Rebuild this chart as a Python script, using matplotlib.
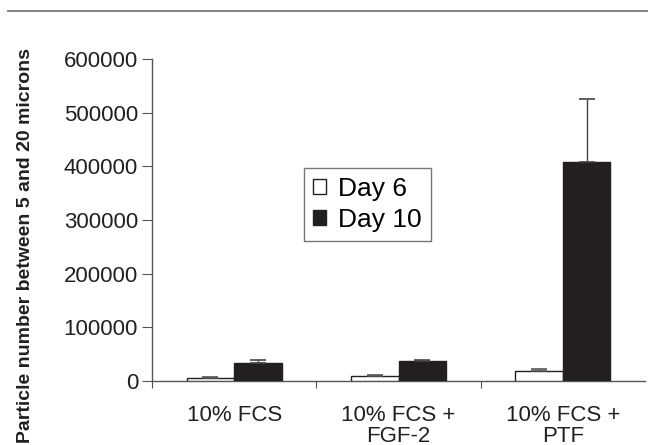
import numpy as np
import matplotlib.pyplot as plt
from matplotlib.lines import Line2D

plt.rcParams['font.family'] = ['Liberation Sans', 'DejaVu Sans']

groups = ['10% FCS', '10% FCS +\nFGF-2', '10% FCS +\nPTF']
day6 = [6000, 9500, 19500]
day6_err = [1000, 1000, 3500]
day10 = [33000, 36500, 407500]
day10_err = [7000, 3500, 118000]

fig = plt.figure(figsize=(6.48, 4.45), dpi=100)
ax = fig.add_axes([152 / 648, 1 - 381 / 445, (645 - 152) / 648, (381 - 59) / 445])

x = np.arange(len(groups)) + 0.5
w = 0.29
dark = '#231f20'
ax.bar(x - w / 2, day6, w, color='white', edgecolor=dark, linewidth=1.0,
       yerr=[np.zeros(3), day6_err], error_kw=dict(ecolor='#555555', capsize=5.5, elinewidth=1.0, capthick=1.2),
       label='Day 6', zorder=3)
ax.bar(x + w / 2, day10, w, color=dark, edgecolor=dark, linewidth=1.0,
       yerr=[np.zeros(3), day10_err], error_kw=dict(ecolor='#444444', capsize=5.5, elinewidth=1.0, capthick=1.2),
       label='Day 10', zorder=3)

ax.set_xlim(0, 3)
ax.set_ylim(0, 600000)
ax.set_yticks(np.arange(0, 600001, 100000))
ax.set_yticklabels([str(v) for v in range(0, 600001, 100000)])
ax.set_xticks([0, 1, 2])
ax.set_xticklabels([])
ax.set_xticks(x, minor=True)
ax.set_xticklabels(groups, minor=True, linespacing=1.0)
ax.tick_params(axis='x', which='minor', length=0, pad=17, labelsize=16, colors='#231f20')
ax.tick_params(axis='x', which='major', length=5, direction='out', color='#555555')
ax.tick_params(axis='y', length=7, direction='out', labelsize=16, pad=3, color='#555555', labelcolor='#231f20')
for s in ['top', 'right']:
    ax.spines[s].set_visible(False)
for s in ['left', 'bottom']:
    ax.spines[s].set_color('#555555')
    ax.spines[s].set_linewidth(1.0)

ax.set_ylabel('Particle number between 5 and 20 microns', fontsize=14, fontweight='bold',
              color='#231f20')
ax.yaxis.set_label_coords(-0.24, 0.42)

leg = ax.legend(loc='upper left', bbox_to_anchor=((304 - 152) / 493, 1 - (168 - 59) / 322),
                fontsize=19, frameon=True, fancybox=False, edgecolor='#555555',
                handlelength=0.5, handleheight=0.5, handletextpad=0.45, borderpad=0.35,
                labelspacing=0.25, borderaxespad=0)
leg.get_frame().set_linewidth(1.0)

fig.add_artist(Line2D([8 / 648, 1], [1 - 11 / 445, 1 - 11 / 445], color='#777777', linewidth=1.3))

fig.savefig('out.png', dpi=100)
